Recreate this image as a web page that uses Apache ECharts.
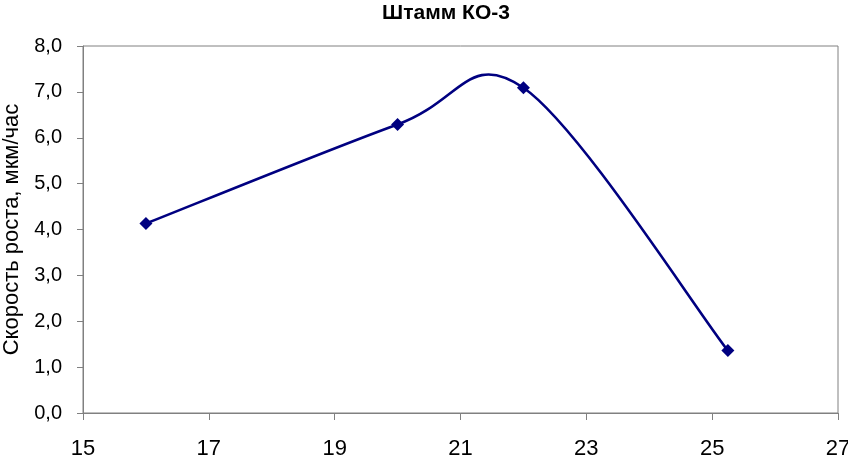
<!DOCTYPE html>
<html><head><meta charset="utf-8">
<script src="https://cdn.jsdelivr.net/npm/echarts@6/dist/echarts.min.js"></script>
<style>html,body{margin:0;padding:0;background:#fff}#c{width:848px;height:457px}</style>
</head><body><div id="c"></div>
<script>
const xValues = [16, 20, 22, 25.25];
const yValues = [4.13, 6.29, 7.09, 1.36];
const title = 'Штамм КО-3';
const yName = 'Скорость роста, мкм/час';
const font = '"Liberation Sans",Arial,sans-serif';
const points = xValues.map((x, i) => [x, yValues[i]]);
const chart = echarts.init(document.getElementById('c'));

// Excel-like smoothed line: cubic Bezier segments (Catmull-Rom, 1/6 tension)
function renderSegment(params, api) {
  const i = params.dataIndex;
  const n = points.length;
  if (i >= n - 1) return null;
  const p = k => api.coord(points[Math.max(0, Math.min(n - 1, k))]);
  const p0 = p(i - 1), p1 = p(i), p2 = p(i + 1), p3 = p(i + 2);
  return {
    type: 'bezierCurve',
    shape: {
      x1: p1[0], y1: p1[1], x2: p2[0], y2: p2[1],
      cpx1: p1[0] + (p2[0] - p0[0]) / 6, cpy1: p1[1] + (p2[1] - p0[1]) / 6,
      cpx2: p2[0] - (p3[0] - p1[0]) / 6, cpy2: p2[1] - (p3[1] - p1[1]) / 6
    },
    style: {stroke: '#000080', lineWidth: 2.6, fill: null}
  };
}

chart.setOption({
  animation: false,
  title: {text: title, left: 441, top: -2, textAlign: 'center',
    textStyle: {fontFamily: font, fontWeight: 'bold', fontSize: 21, color: '#000'}},
  grid: {left: 83, right: 10, top: 46, bottom: 44, show: true, borderColor: '#808080', borderWidth: 1,
    outerBoundsMode: 'none', containLabel: false},
  xAxis: {type: 'value', min: 15, max: 27, interval: 2,
    axisLine: {lineStyle: {color: '#808080'}},
    axisTick: {show: true, inside: false, length: 7, lineStyle: {color: '#808080'}},
    splitLine: {show: false},
    axisLabel: {fontFamily: font, fontSize: 22, color: '#000', margin: 25}},
  yAxis: {type: 'value', min: 0, max: 8, interval: 1,
    name: yName, nameLocation: 'middle', nameGap: 58,
    nameTextStyle: {fontFamily: font, fontSize: 22, color: '#000'},
    axisLine: {show: true, lineStyle: {color: '#808080'}},
    axisTick: {show: true, inside: false, length: 6, lineStyle: {color: '#808080'}},
    splitLine: {show: false},
    axisLabel: {fontFamily: font, fontSize: 20, color: '#000', margin: 21,
      formatter: v => v.toFixed(1).replace('.', ',')}},
  series: [
    {type: 'custom', data: points, renderItem: renderSegment, silent: true, z: 2},
    {type: 'scatter', data: points, symbol: 'diamond', symbolSize: 13,
      itemStyle: {color: '#000080', opacity: 1}, z: 3}
  ]
});
</script></body></html>
